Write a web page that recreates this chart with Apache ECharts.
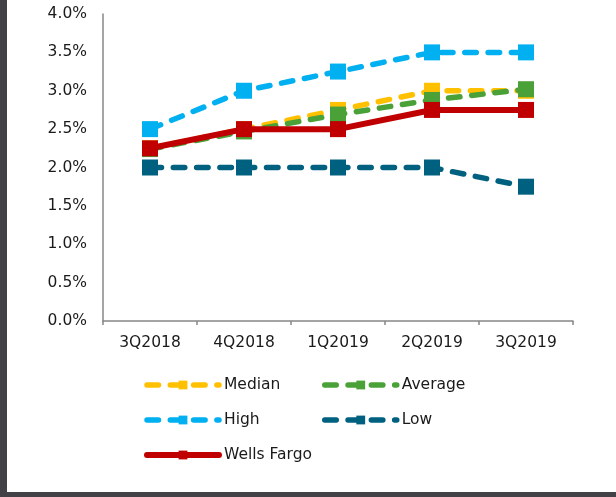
<!DOCTYPE html>
<html>
<head>
<meta charset="utf-8">
<script src="https://cdn.jsdelivr.net/npm/echarts@6/dist/echarts.min.js"></script>
<style>
  html, body { margin: 0; padding: 0; background: #fff; }
  .wrap { position: relative; width: 616px; height: 497px; }
  #chart { width: 616px; height: 497px; }
  .frame {
    position: absolute; left: 0; top: 0; width: 616px; height: 497px;
    box-sizing: border-box; border-left: 7px solid #414146; border-bottom: 5px solid #414146;
    pointer-events: none;
  }
</style>
</head>
<body>
<div class="wrap">
  <div id="chart"></div>
  <div class="frame"></div>
</div>
<script>
// quarters on the x axis
var quarters = ['3Q2018', '4Q2018', '1Q2019', '2Q2019', '3Q2019'];
// values in percent
var median = [2.25, 2.5, 2.75, 3.0, 3.0];
var average = [2.24, 2.47, 2.69, 2.88, 3.02];
var high = [2.5, 3.0, 3.25, 3.5, 3.5];
var low = [2.0, 2.0, 2.0, 2.0, 1.75];
var wellsFargo = [2.25, 2.5, 2.5, 2.75, 2.75];

var font = 'DejaVu Sans, Verdana, sans-serif';
var dash = [11.5, 11.8];
var colors = {
  'Median': '#FFC000',
  'Average': '#4AA137',
  'High': '#00B0F0',
  'Low': '#00607F',
  'Wells Fargo': '#C00000'
};

function dashed(name, data) {
  var c = colors[name];
  return {
    name: name,
    type: 'line',
    data: data,
    symbol: 'rect',
    symbolSize: 16,
    itemStyle: { color: c, borderWidth: 0 },
    lineStyle: { color: c, width: 5.5, type: dash, cap: 'round' },
    emphasis: { disabled: true }
  };
}

// legend entries, with the icon line drawn thick like in the plot
function legendItem(name) {
  var solid = name === 'Wells Fargo';
  return {
    name: name,
    itemStyle: { color: colors[name], borderWidth: 0 },
    lineStyle: { color: colors[name], width: solid ? 6 : 5.5, type: solid ? 'solid' : dash, cap: 'round' }
  };
}

function legendBox(names, left) {
  return {
    data: names.map(legendItem),
    orient: 'vertical', left: left, top: 377, padding: 0,
    itemWidth: 72, itemHeight: 11, itemGap: 19,
    textStyle: { fontFamily: font, fontSize: 15.5, color: '#1a1a1a' }
  };
}

var chart = echarts.init(document.getElementById('chart'));
var option = {
  animation: false,
  textStyle: { fontFamily: font },
  grid: { left: 103, right: 43, top: 14, bottom: 176 },
  legend: [
    legendBox(['Median', 'High', 'Wells Fargo'], 144),
    legendBox(['Average', 'Low'], 322)
  ],
  xAxis: {
    type: 'category',
    data: quarters,
    boundaryGap: true,
    axisLine: { lineStyle: { color: '#878787', width: 1.5 } },
    axisTick: { show: true, length: 4, lineStyle: { color: '#878787', width: 1.5 } },
    axisLabel: { color: '#1a1a1a', fontSize: 15.5, margin: 14 }
  },
  yAxis: {
    type: 'value',
    min: 0, max: 4, interval: 0.5,
    axisLine: { show: true, lineStyle: { color: '#878787', width: 1.5 } },
    axisTick: { show: false },
    splitLine: { show: false },
    axisLabel: {
      color: '#1a1a1a', fontSize: 15.5, margin: 16,
      formatter: function (v) { return v.toFixed(1) + '%'; }
    }
  },
  series: [
    dashed('Median', median),
    dashed('Average', average),
    dashed('High', high),
    dashed('Low', low),
    {
      name: 'Wells Fargo',
      type: 'line',
      data: wellsFargo,
      symbol: 'rect',
      symbolSize: 16,
      itemStyle: { color: colors['Wells Fargo'], borderWidth: 0 },
      lineStyle: { color: colors['Wells Fargo'], width: 6, cap: 'round' },
      emphasis: { disabled: true }
    }
  ]
};
chart.setOption(option);
</script>
</body>
</html>
